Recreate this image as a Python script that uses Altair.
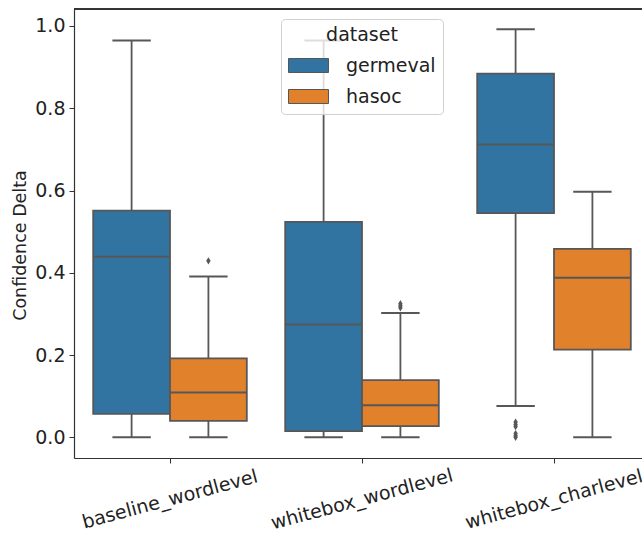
import altair as alt
import pandas as pd

categories = ["baseline_wordlevel", "whitebox_wordlevel", "whitebox_charlevel"]
datasets = ["germeval", "hasoc"]

# order: (cat0,germeval),(cat0,hasoc),(cat1,germeval),(cat1,hasoc),(cat2,germeval),(cat2,hasoc)
box_cat = ["baseline_wordlevel", "baseline_wordlevel", "whitebox_wordlevel",
           "whitebox_wordlevel", "whitebox_charlevel", "whitebox_charlevel"]
box_ds = ["germeval", "hasoc", "germeval", "hasoc", "germeval", "hasoc"]
whisker_low = [0.0, 0.0, 0.0, 0.0, 0.076, 0.0]
q1 = [0.057, 0.040, 0.015, 0.027, 0.545, 0.213]
median = [0.439, 0.109, 0.274, 0.078, 0.712, 0.388]
q3 = [0.551, 0.192, 0.524, 0.139, 0.884, 0.458]
whisker_high = [0.965, 0.391, 0.965, 0.302, 0.992, 0.597]

out_cat = ["baseline_wordlevel", "whitebox_wordlevel", "whitebox_wordlevel",
           "whitebox_wordlevel", "whitebox_charlevel", "whitebox_charlevel",
           "whitebox_charlevel", "whitebox_charlevel", "whitebox_charlevel",
           "whitebox_charlevel"]
out_ds = ["hasoc", "hasoc", "hasoc", "hasoc", "germeval", "germeval",
          "germeval", "germeval", "germeval", "germeval"]
out_val = [0.429, 0.315, 0.320, 0.325, 0.0, 0.004, 0.009, 0.026, 0.031, 0.037]

y_ticks = [0.0, 0.2, 0.4, 0.6, 0.8, 1.0]

box_df = pd.DataFrame({
    "category": box_cat, "dataset": box_ds, "low": whisker_low, "q1": q1,
    "median": median, "q3": q3, "high": whisker_high,
})
out_df = pd.DataFrame({"category": out_cat, "dataset": out_ds, "value": out_val})

GRAY = "#575757"
FONT = "DejaVu Sans"
FS = 19

x_enc = alt.X("category:N", sort=categories,
              scale=alt.Scale(domain=categories, range=[0, 576],
                              paddingInner=0, paddingOuter=0),
              axis=alt.Axis(title=None, labelAngle=-15, labelAlign="center",
                            labelBaseline="middle", labelPadding=36, labelLimit=0,
                            labelFontSize=FS, labelColor="#222222",
                            tickSize=5, tickColor="#333333", domainColor="#333333",
                            domainWidth=1.2, labelFont=FONT))
xo_enc = alt.XOffset("dataset:N", sort=datasets,
                     scale=alt.Scale(domain=datasets, paddingInner=0, paddingOuter=0.25))
y_scale = alt.Scale(domain=[-0.0503, 1.0413], nice=False, zero=False)
y_axis = alt.Axis(title="Confidence Delta", values=y_ticks, format=".1f", grid=False,
                  labelFontSize=FS, titleFontSize=17.5, titleFontWeight="normal",
                  titleFont=FONT, labelFont=FONT, labelColor="#222222",
                  titleColor="#222222", tickSize=5, tickColor="#333333",
                  domainColor="#333333", domainWidth=1.2, labelPadding=4,
                  titlePadding=5, titleY=236)

base = alt.Chart(box_df)

whiskers = base.mark_rule(color=GRAY, strokeWidth=1.8).encode(
    x=x_enc, xOffset=xo_enc,
    y=alt.Y("low:Q", scale=y_scale, axis=y_axis), y2="high:Q")

caps_low = base.mark_tick(color=GRAY, size=38.4, thickness=2, opacity=1).encode(
    x=x_enc, xOffset=xo_enc, y=alt.Y("low:Q", scale=y_scale))
caps_high = base.mark_tick(color=GRAY, size=38.4, thickness=2, opacity=1).encode(
    x=x_enc, xOffset=xo_enc, y=alt.Y("high:Q", scale=y_scale))

boxes = base.mark_bar(stroke=GRAY, strokeWidth=1.8).encode(
    x=x_enc, xOffset=xo_enc,
    y=alt.Y("q1:Q", scale=y_scale), y2="q3:Q",
    color=alt.Color("dataset:N", sort=datasets,
                    scale=alt.Scale(domain=datasets, range=["#3274a1", "#e1812c"]),
                    legend=alt.Legend(
                        title="dataset", orient="none", legendX=207, legendY=10,
                        titleFontSize=FS, labelFontSize=FS, titleFontWeight="normal",
                        titleFont=FONT, labelFont=FONT, titleColor="#222222",
                        labelColor="#222222", titleAnchor="middle",
                        symbolType="M-1,-0.35L1,-0.35L1,0.35L-1,0.35Z",
                        symbolSize=1600, symbolStrokeColor=GRAY,
                        symbolStrokeWidth=1, symbolOpacity=1,
                        labelOffset=17, rowPadding=-5, titlePadding=0,
                        padding=7, fillColor="rgba(255,255,255,0.8)",
                        strokeColor="#d0d0d0", cornerRadius=4)))

medians = base.mark_tick(color=GRAY, size=76.8, thickness=2, opacity=1).encode(
    x=x_enc, xOffset=xo_enc, y=alt.Y("median:Q", scale=y_scale))

outliers = alt.Chart(out_df).mark_point(
    shape="M0,-1L0.6,0L0,1L-0.6,0Z", filled=True, color=GRAY, size=55, opacity=1
).encode(x=x_enc, xOffset=xo_enc, y=alt.Y("value:Q", scale=y_scale))

top_spine = alt.Chart(box_df).mark_rule(color="#333333", strokeWidth=1.2).encode(
    x=alt.value(0), x2=alt.value(576), y=alt.value(0))

chart = alt.layer(whiskers, caps_low, caps_high, boxes, medians, outliers, top_spine).properties(
    width=568, height=449,
    autosize=alt.AutoSizeParams(type="none"),
    padding={"left": 74, "top": 9, "right": 0, "bottom": 77},
).configure_view(stroke=None).configure(font=FONT, background="white")

chart.save("out.html", embed_options={"renderer": "svg", "actions": False})
